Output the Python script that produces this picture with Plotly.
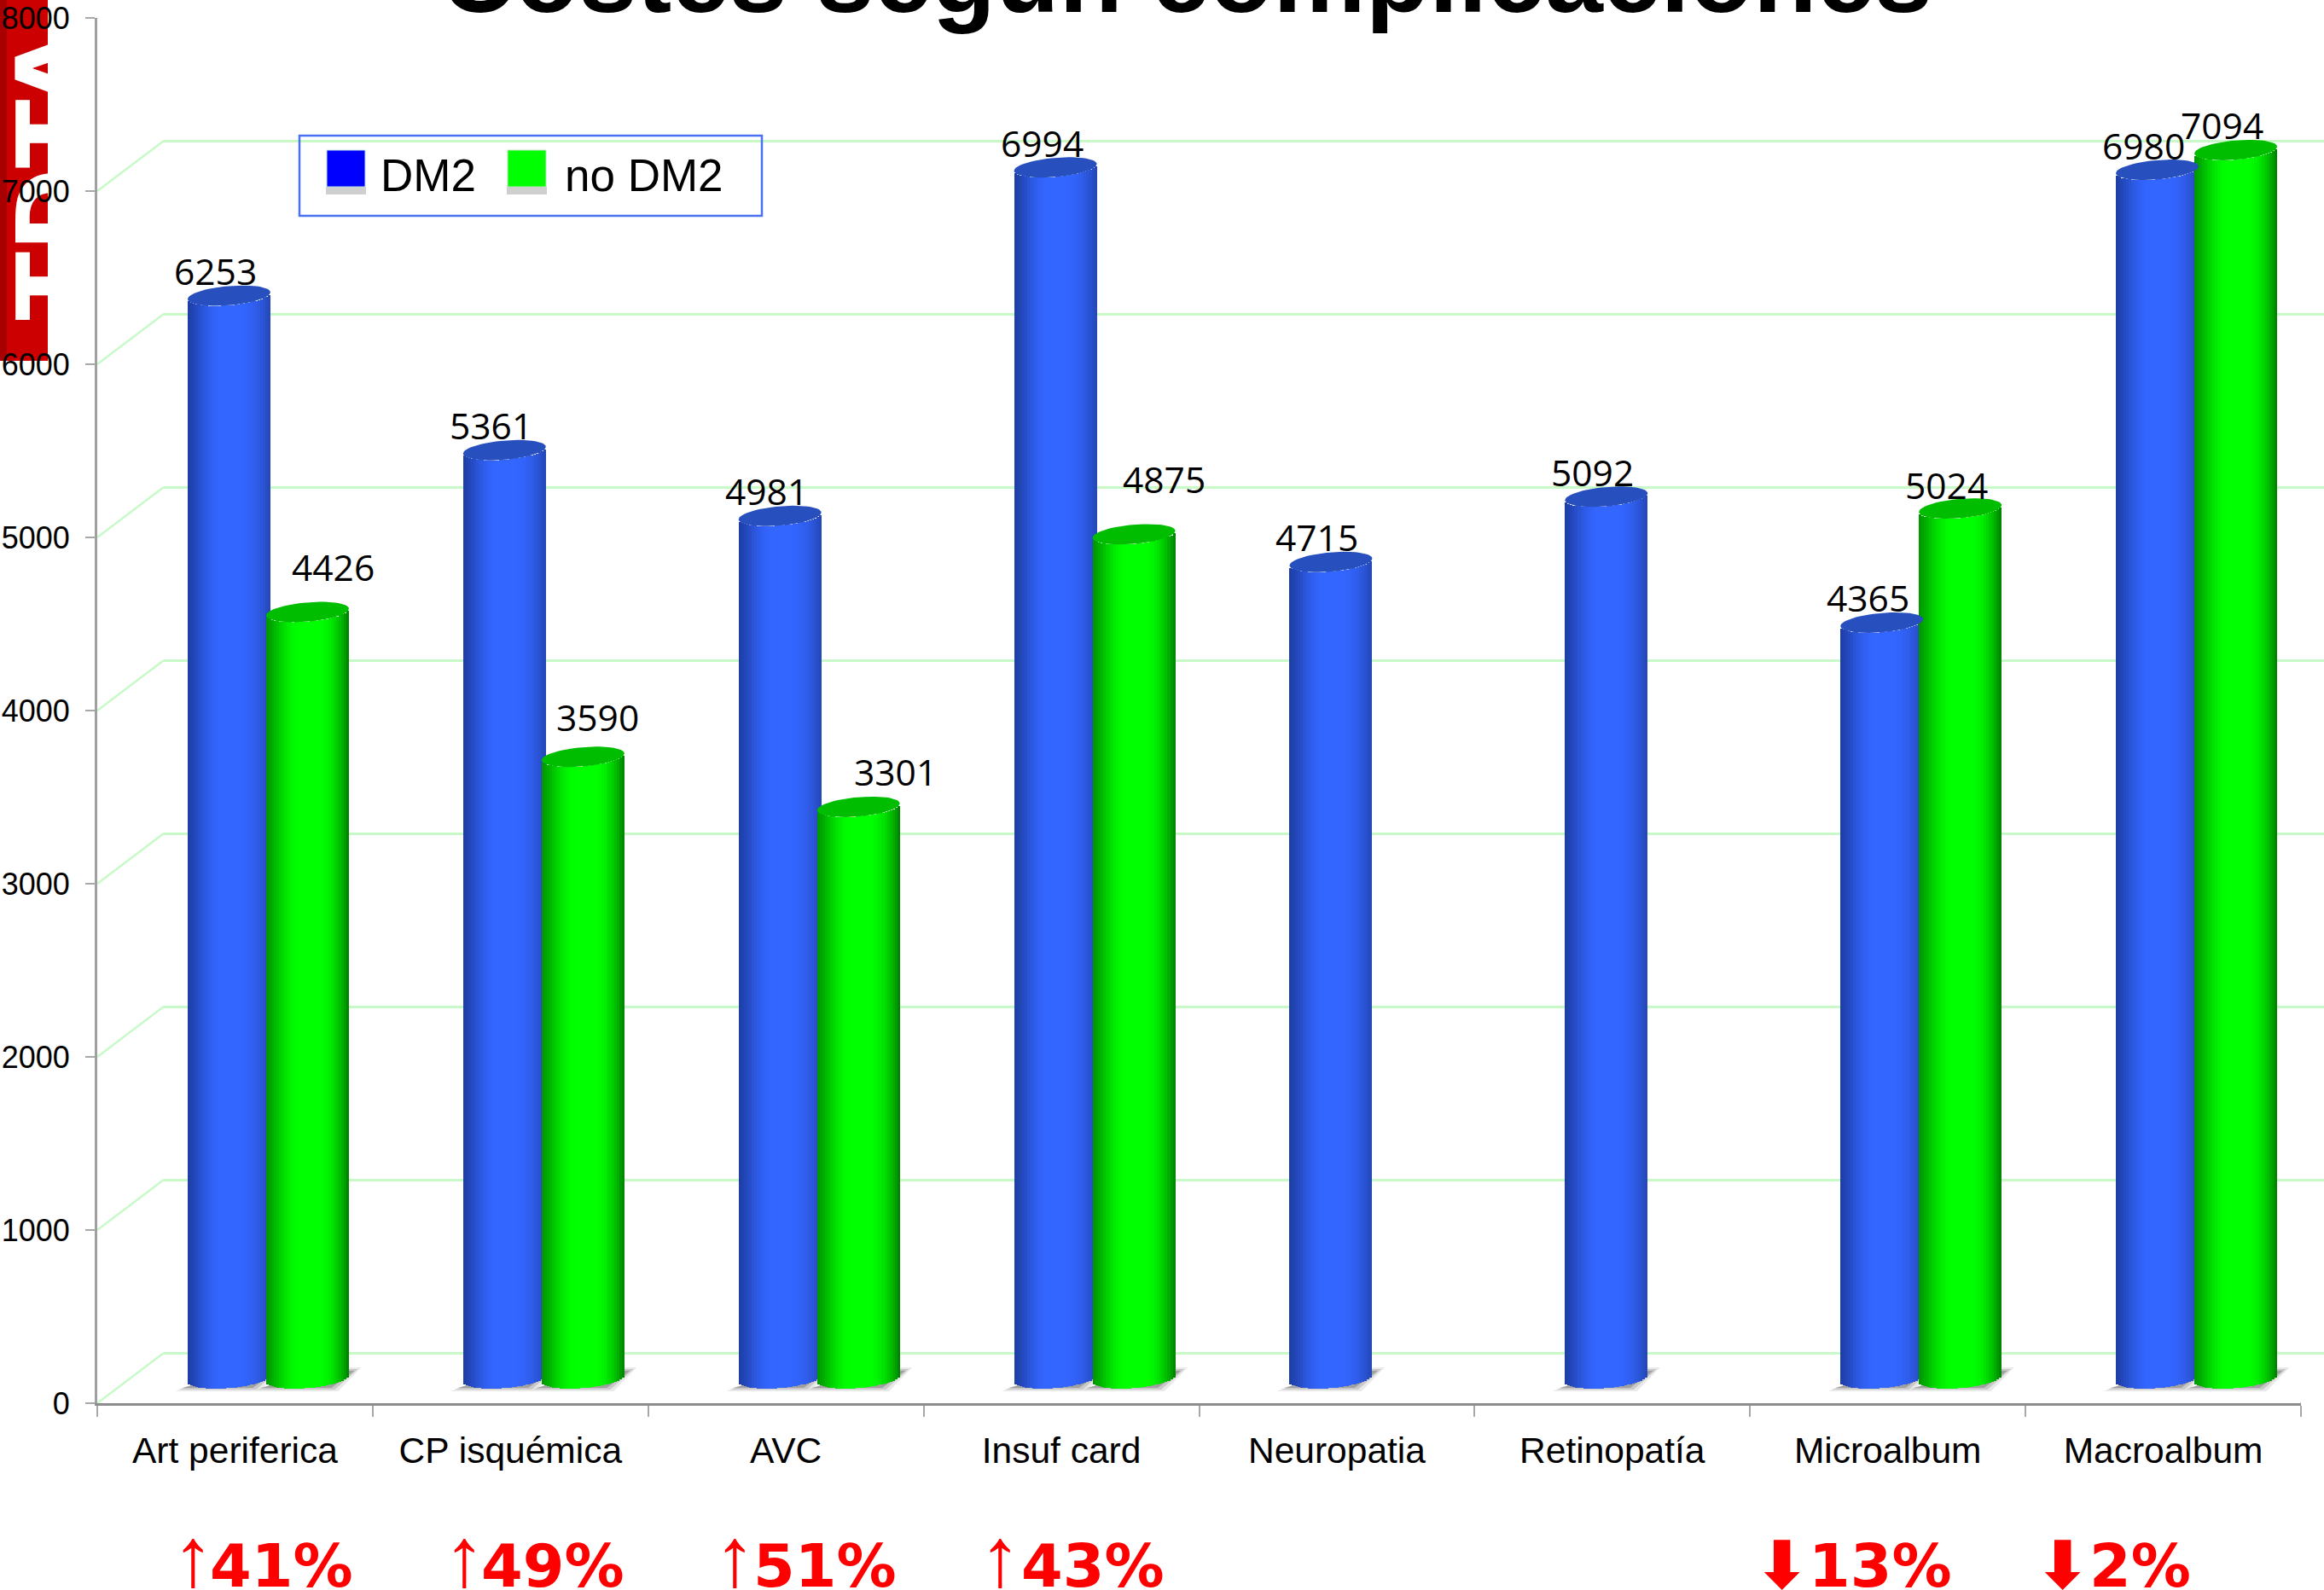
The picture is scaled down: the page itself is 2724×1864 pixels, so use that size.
import math
import plotly.graph_objects as go

# Chart data
categories = ["Art periferica", "CP isquémica", "AVC", "Insuf card",
              "Neuropatia", "Retinopatía", "Microalbum", "Macroalbum"]
dm2 = [6253, 5361, 4981, 6994, 4715, 5092, 4365, 6980]
no_dm2 = [4426, 3590, 3301, 4875, None, None, 5024, 7094]
y_ticks = [0, 1000, 2000, 3000, 4000, 5000, 6000, 7000, 8000]
change_arrows = ["↑", "↑", "↑", "↑", "⬇", "⬇"]
change_texts = ["41%", "49%", "51%", "43%", "13%", "2%"]

# Value-label offsets in pixels, one pair per bar
dm2_label_dx = [-16] * 8
dm2_label_dy = [29] * 8
no_dm2_label_dx = [30, 17, 43, 35, 0, 0, -16, -16]
no_dm2_label_dy = [53, 47, 41, 65, 0, 0, 28, 29]

# Page geometry
W, H = 2724, 1864
FRONT_LEFT, FRONT_RIGHT = 114, 2697
FRONT_ZERO, FRONT_TOP = 1645, 21
DEPTH_X, DEPTH_Y = 78, 59
BAR_ZERO = 1616
CAT_W = (FRONT_RIGHT - FRONT_LEFT) / 8
PX_PER_UNIT = (FRONT_ZERO - FRONT_TOP) / 8000
GROUP_CENTER0 = FRONT_LEFT + CAT_W / 2 + DEPTH_X / 2

BAR_W = 97
BAR_SEP = 92
ELL_A = BAR_W / 2
ELL_B = 11.3
ELL_TILT = -4.0
N_STRIPS = 32


def px_to_value(dy):
    return dy / PX_PER_UNIT


def lerp_color(c0, c1, t):
    return "rgb(%d,%d,%d)" % tuple(round(a + (b - a) * t) for a, b in zip(c0, c1))


def cylinder_color(f, dark_l, bright, dark_r):
    """Horizontal shading across a cylinder: dark edges, bright centre band."""
    if f < 0.42:
        return lerp_color(dark_l, bright, math.sin(f / 0.42 * math.pi / 2) ** 1.2)
    if f > 0.62:
        return lerp_color(bright, dark_r, ((f - 0.62) / 0.38) ** 2.0)
    return lerp_color(bright, bright, 0)


def lower_rim(f):
    """Value offset of the cylinder's lower rim at fraction f of its width."""
    c = 2 * f - 1
    dy = ELL_B * math.sqrt(max(0, 1 - c * c)) + ELL_TILT * c
    return -px_to_value(dy)


def cap_outline(xc, value):
    xs, ys = [], []
    for i in range(61):
        t = 2 * math.pi * i / 60
        xs.append(xc + ELL_A * math.cos(t) / CAT_W)
        ys.append(value - px_to_value(ELL_B * math.sin(t) + ELL_TILT * math.cos(t)))
    return xs, ys


fig = go.Figure()

# Oblique wall lines joining the front axis to the back wall
for v in y_ticks:
    fig.add_trace(go.Scatter(
        x=[-0.5, -0.5 + DEPTH_X / CAT_W], y=[v, v + px_to_value(DEPTH_Y)],
        mode="lines", line=dict(color="#c8fac8", width=2.5), cliponaxis=False,
        showlegend=False, hoverinfo="skip"))
fig.add_trace(go.Scatter(
    x=[7.5, 7.5 + 40 / CAT_W], y=[0, px_to_value(DEPTH_Y * 40 / DEPTH_X)],
    mode="lines", line=dict(color="#8c8c8c", width=2.5), cliponaxis=False,
    showlegend=False, hoverinfo="skip"))

# Back wall: only its gridlines are shown
fig.add_trace(go.Scatter(x=[0], y=[0], xaxis="x2", yaxis="y2", mode="markers",
                         marker=dict(opacity=0), showlegend=False, hoverinfo="skip"))

positions = list(range(len(categories)))
series = [
    (dm2, -BAR_SEP / 2 / CAT_W, (30, 62, 165), (51, 102, 255), (36, 70, 180), "#274fbe", "DM2"),
    (no_dm2, BAR_SEP / 2 / CAT_W, (0, 150, 0), (0, 255, 0), (0, 125, 0), "#00bd00", "no DM2"),
]

# Floor shadows under each cylinder, on their own plane below the bars
for inset, alpha in ((0, 0.12), (4, 0.20), (8, 0.30)):
    sx, sy = [], []
    for values, off, *_ in series:
        for p, v in zip(positions, values):
            if v is None:
                continue
            xc = p + off
            pts = [(-63 + inset, 15 - inset / 2), (36 - inset, 15 - inset / 2),
                   (63 - inset, -13 + inset / 2), (10 + inset, -13 + inset / 2)]
            sx += [xc + a / CAT_W for a, _ in pts] + [None]
            sy += [-px_to_value(b) for _, b in pts] + [None]
    fig.add_trace(go.Scatter(
        x=sx, y=sy, xaxis="x3", yaxis="y3", mode="lines", fill="toself",
        fillcolor=f"rgba(70,70,70,{alpha})", line=dict(width=0),
        showlegend=False, hoverinfo="skip"))

# Cylinders: many narrow bars of the same height form the shaded body,
# and a filled tilted ellipse closes the top
for values, off, dark_l, bright, dark_r, cap_color, name in series:
    strip_w = BAR_W / N_STRIPS / CAT_W
    for k in range(N_STRIPS):
        f = (k + 0.5) / N_STRIPS
        rim = lower_rim(f)
        fig.add_trace(go.Bar(
            x=positions, y=values, base=[rim] * len(values), xaxis="x4", yaxis="y4",
            offset=off - BAR_W / 2 / CAT_W + k * strip_w, width=strip_w,
            marker=dict(color=cylinder_color(f, dark_l, bright, dark_r),
                        opacity=1, line=dict(width=0)),
            opacity=1, name=name, showlegend=False, hoverinfo="skip"))
    cx, cy = [], []
    for p, v in zip(positions, values):
        if v is None:
            continue
        xs, ys = cap_outline(p + off, v)
        cx += xs + [None]
        cy += ys + [None]
    fig.add_trace(go.Scatter(
        x=cx, y=cy, xaxis="x4", yaxis="y4", mode="lines", fill="toself",
        fillcolor=cap_color, line=dict(width=0), showlegend=False, hoverinfo="skip"))

annotations = []

# Value labels on each cylinder
for values, off, dxs, dys in ((dm2, series[0][1], dm2_label_dx, dm2_label_dy),
                              (no_dm2, series[1][1], no_dm2_label_dx, no_dm2_label_dy)):
    for p, v, dx, dy in zip(positions, values, dxs, dys):
        if v is None:
            continue
        annotations.append(dict(
            x=p + off, y=v, xref="x4", yref="y4", text=str(v), showarrow=False,
            xshift=dx, yshift=dy, font=dict(family="Open Sans", size=42.5, color="#000000")))

# Percentage differences under the chart
arrow_x = [226, 544, 861, 1172, 2088, 2417]
digit_x = [247, 565, 884, 1198, 2121, 2450]
for a, t, ax, dx in zip(change_arrows, change_texts, arrow_x, digit_x):
    up = a == "↑"
    annotations.append(dict(
        x=ax / W, y=1 - (1825 if up else 1835) / H, xref="paper", yref="paper", text=a,
        showarrow=False, xanchor="center", yanchor="middle",
        font=dict(family="Liberation Sans" if up else "DejaVu Sans", size=98 if up else 78,
                  color="#ff0000", weight="normal" if up else "bold")))
    annotations.append(dict(
        x=dx / W, y=1 - 1836 / H, xref="paper", yref="paper", text=t, showarrow=False,
        xanchor="left", yanchor="middle", xshift=-3,
        font=dict(family="DejaVu Sans", size=70, color="#ff0000", weight="bold")))

# Heading, running off the top of the page
annotations.append(dict(
    x=1390 / W, y=1 - 12 / H, xref="paper", yref="paper", yanchor="bottom", yshift=-30,
    text="Costes según complicaciones", showarrow=False,
    font=dict(family="Liberation Sans", size=122, color="#000000", weight="bold")))

# Legend text
annotations.append(dict(x=444 / W, y=1 - 205 / H, xref="paper", yref="paper", text="DM2",
                        xanchor="left", yanchor="middle", showarrow=False,
                        font=dict(family="Liberation Sans", size=53, color="#000000")))
annotations.append(dict(x=660 / W, y=1 - 205 / H, xref="paper", yref="paper", text="no DM2",
                        xanchor="left", yanchor="middle", showarrow=False,
                        font=dict(family="Liberation Sans", size=53, color="#000000")))


def rect(x0, y0, x1, y1, **kw):
    return dict(type="rect", xref="paper", yref="paper", x0=x0 / W, x1=x1 / W,
                y0=1 - y0 / H, y1=1 - y1 / H, **kw)


shapes = [
    # Corner logo
    rect(0, 0, 56, 423, fillcolor="#cc0000", line=dict(width=0), layer="below"),
    rect(0, 0, 8, 423, fillcolor="#a80000", line=dict(width=0), layer="below"),
    rect(12, 30, 98, 380, fillcolor="rgba(0,0,0,0)", line=dict(width=0), layer="below",
         label=dict(text="TDTA", textangle=-90, textposition="middle center",
                    font=dict(family="DejaVu Sans", size=118, color="#ffffff", weight="bold"))),
    # Legend frame and swatches
    rect(351, 159, 893, 253, fillcolor="rgba(0,0,0,0)", line=dict(color="#4a72f0", width=2.5)),
    rect(382, 219, 429, 228, fillcolor="#cfcfcf", line=dict(width=0)),
    rect(383, 176, 428, 219, fillcolor="#0000ff", line=dict(color="#bfe0e0", width=1)),
    rect(594, 219, 641, 228, fillcolor="#cfcfcf", line=dict(width=0)),
    rect(595, 176, 640, 219, fillcolor="#00ff00", line=dict(color="#bfe0bf", width=1)),
]

fig.update_layout(
    width=W, height=H, margin=dict(l=0, r=0, t=0, b=0, autoexpand=False),
    paper_bgcolor="#ffffff", plot_bgcolor="rgba(0,0,0,0)",
    barmode="overlay", bargap=0, bargroupgap=0, showlegend=False,
    annotations=annotations, shapes=shapes,
    font=dict(family="Liberation Sans", color="#000000"),
    # Front plane: carries the visible axes
    xaxis=dict(
        domain=[FRONT_LEFT / W, FRONT_RIGHT / W], range=[-0.5, 7.5],
        tickmode="array", tickvals=positions, ticktext=categories, ticks="",
        tickfont=dict(size=42.5, color="#000000"), ticklabelstandoff=16,
        minor=dict(tickmode="array", tickvals=[p - 0.5 for p in positions] + [7.5],
                   ticks="outside", ticklen=13, tickwidth=2, tickcolor="#a8a8a8", showgrid=False),
        showline=True, linecolor="#8c8c8c", linewidth=3, showgrid=False, zeroline=False),
    yaxis=dict(
        domain=[1 - FRONT_ZERO / H, 1 - FRONT_TOP / H], range=[0, 8000],
        tickmode="array", tickvals=y_ticks, ticks="outside", ticklen=11, tickwidth=2,
        tickcolor="#a8a8a8", tickfont=dict(size=36, color="#000000"), ticklabelstandoff=11,
        showline=True, linecolor="#a0a0a0", linewidth=3, showgrid=False, zeroline=False),
    # Back wall
    xaxis2=dict(domain=[(FRONT_LEFT + DEPTH_X) / W, 1], range=[0, 1], visible=False, anchor="y2"),
    yaxis2=dict(domain=[0, 1], anchor="x2", side="left",
                range=[px_to_value(FRONT_ZERO - DEPTH_Y - H), px_to_value(FRONT_ZERO - DEPTH_Y)],
                tickmode="array", tickvals=y_ticks, showticklabels=False, ticks="",
                showline=False, zeroline=False, showgrid=True, gridcolor="#c8fac8", gridwidth=2.5),
    # Two planes through the middle of the floor: shadows, then the cylinders
    xaxis3=dict(domain=[0, 1], range=[-GROUP_CENTER0 / CAT_W, (W - GROUP_CENTER0) / CAT_W],
                visible=False, anchor="y3"),
    yaxis3=dict(domain=[0, 1], range=[px_to_value(BAR_ZERO - H), px_to_value(BAR_ZERO)],
                visible=False, anchor="x3"),
    xaxis4=dict(domain=[0, 1], range=[-GROUP_CENTER0 / CAT_W, (W - GROUP_CENTER0) / CAT_W],
                visible=False, anchor="y4"),
    yaxis4=dict(domain=[0, 1], range=[px_to_value(BAR_ZERO - H), px_to_value(BAR_ZERO)],
                visible=False, anchor="x4"),
)

fig.write_html("out.html", config=dict(displayModeBar=False))
